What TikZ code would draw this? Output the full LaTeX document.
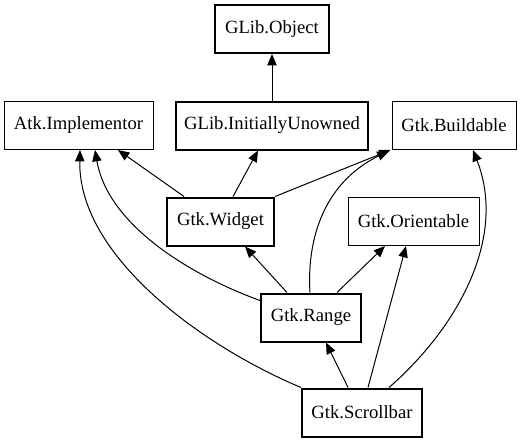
\documentclass[tikz,border=0pt]{standalone}
\usepackage{fontspec}
\setmainfont{Liberation Serif}
\usetikzlibrary{arrows.meta,calc}
\begin{document}
\begin{tikzpicture}[x=0.75pt,y=-0.75pt,
  box/.style={draw,rectangle,inner sep=0pt,minimum height=36pt,font=\fontsize{14}{16}\selectfont,line width=0.75pt},
  thick box/.style={box,line width=1.5pt},
  edge/.style={line width=0.75pt,-{Triangle[length=8.5pt,width=7pt]}}]
\useasboundingbox (0,0) rectangle (521,443);
\node[thick box,minimum width=85.5pt] (obj) at (272,29) {GLib.Object};
\node[box,minimum width=111.75pt] (atk) at (78.5,125.5) {Atk.Implementor};
\node[thick box,minimum width=144pt] (ini) at (272,125.5) {GLib.InitiallyUnowned};
\node[box,minimum width=93pt] (bld) at (454,125.5) {Gtk.Buildable};
\node[thick box,minimum width=80.25pt] (wid) at (220.5,221.5) {Gtk.Widget};
\node[box,minimum width=98.25pt] (ori) at (413.5,221.5) {Gtk.Orientable};
\node[thick box,minimum width=75pt] (rng) at (311,317.5) {Gtk.Range};
\node[thick box,minimum width=90pt] (scr) at (362,412.5) {Gtk.Scrollbar};

\draw[edge] (ini.north) -- (obj.south);
\draw[edge] ($(wid.north)+(-36.5,0)$) -- ($(atk.south)+(39.5,0)$);
\draw[edge] ($(wid.north)+(12.5,0)$) -- ($(ini.south)+(-14,0)$);
\draw[edge] (wid.north east) -- ($(bld.south west)+(-1,0)$);
\draw[edge] ($(rng.north)+(-24,0)$) -- ($(wid.south)+(24.5,0)$);
\draw[edge] ($(rng.north)+(26,0)$) -- ($(ori.south)+(-28.5,0)$);
\draw[edge] ($(rng.north)+(-1,0)$) .. controls (307,245) and (320,185) .. ($(bld.south west)+(-3,1)$);
\draw[edge] ($(rng.west)+(0,-17)$) .. controls (190,275) and (108,225) .. ($(atk.south)+(16.5,0)$);
\draw[edge] ($(scr.north)+(-14,0)$) -- ($(rng.south)+(15,0)$);
\draw[edge] ($(scr.north)+(6,0)$) -- ($(ori.south)+(-7.5,0)$);
\draw[edge] ($(scr.north)+(27,0)$) .. controls (455,330) and (508,240) .. ($(bld.south)+(19,0)$);
\draw[edge] (scr.north west) .. controls (200,345) and (78,255) .. ($(atk.south)+(1.5,0)$);
\end{tikzpicture}
\end{document}
